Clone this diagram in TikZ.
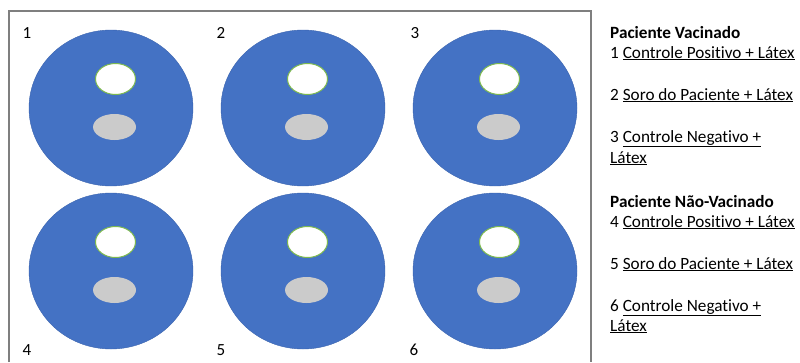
\documentclass[tikz,border=0pt]{standalone}
\usepackage{fontspec}
\setmainfont[Ligatures=NoCommon]{Carlito}
\usetikzlibrary{shapes.geometric, positioning, calc}
\definecolor{plateBlue}{HTML}{4472C4}
\definecolor{plateEdge}{HTML}{3A63AE}
\definecolor{wellGreen}{HTML}{7DB94F}
\definecolor{dropGray}{HTML}{CBCBCB}
\definecolor{frameGray}{HTML}{7F7F7F}
\tikzset{
  plate/.style={ellipse, draw=plateEdge, line width=0.4pt, fill=plateBlue,
                minimum width=164pt, minimum height=156pt, inner sep=0pt},
  well/.style={ellipse, draw=wellGreen, line width=1pt, fill=white,
               minimum width=40pt, minimum height=31pt, inner sep=0pt},
  drop/.style={ellipse, fill=dropGray, minimum width=43pt, minimum height=26pt, inner sep=0pt},
  num/.style={font=\fontsize{17}{20}\selectfont, inner sep=0pt},
  legend/.style={anchor=base west, inner sep=0pt, font=\fontsize{17.2}{20}\selectfont},
}

\begin{document}
\begin{tikzpicture}[x=1pt, y=-1pt]
\useasboundingbox (0,0) rectangle (800,362);
% frame
\draw[frameGray, line width=1.2pt] (9,362) -- (9,11) -- (591,11) -- (591,362);
% plates with wells
\foreach \n/\cx/\cy in {1/111/108, 2/303/108, 3/495/108,
                        4/111/271, 5/303/271, 6/495/271}{
  \node[plate] (p\n) at (\cx,\cy) {};
  \node[well] (w\n) at ($(p\n)+(4.5,-29)$) {};
  \node[drop] (d\n) at ($(p\n)+(3.5,19)$) {};
}
% plate numbers
\foreach \n/\lx/\ly in {1/27/33, 2/221/33, 3/415/33, 4/27/350, 5/221/350, 6/414/350}{
  \node[num] (n\n) at (\lx,\ly) {\n};
}
% legend
\foreach \y/\txt [count=\i] in {
    38/{\textbf{Paciente Vacinado}},
    58/{1 \underline{Controle Positivo + Látex}},
    100/{2 \underline{Soro do Paciente + Látex}},
    142/{3 \underline{Controle Negativo +}},
    163/{\underline{Látex}},
    207/{\textbf{Paciente Não-Vacinado}},
    227/{4 \underline{Controle Positivo + Látex}},
    269/{5 \underline{Soro do Paciente + Látex}},
    311/{6 \underline{Controle Negativo +}},
    331/{\underline{Látex}}}{
  \node[legend] (leg\i) at (610,\y) {\txt};
}
\end{tikzpicture}
\end{document}
